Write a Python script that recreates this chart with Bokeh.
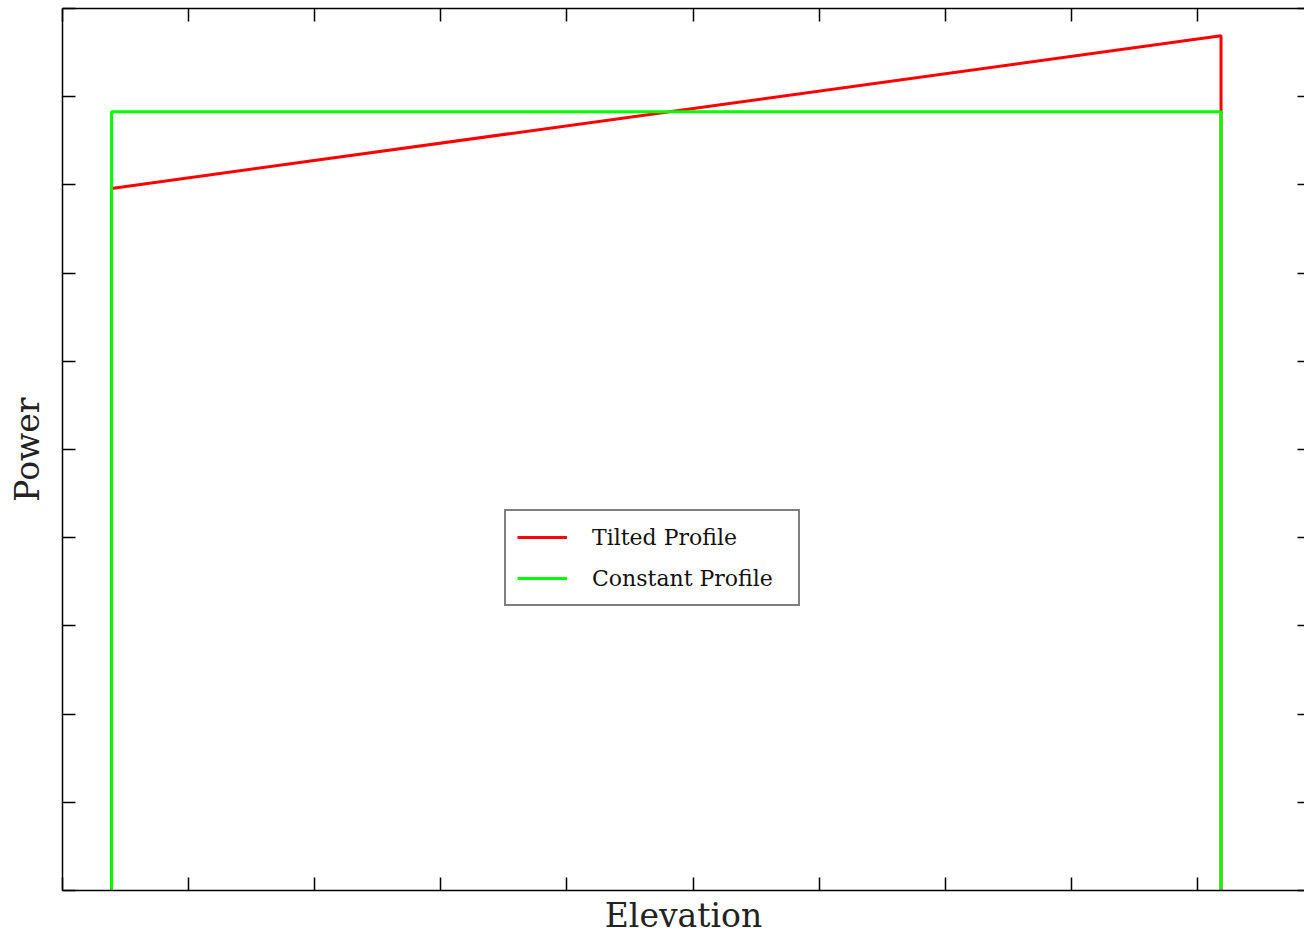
from bokeh.plotting import figure
from bokeh.models import Range1d, LinearAxis, FixedTicker, Legend, LegendItem, CustomJSTickFormatter
from bokeh.embed import file_html
from bokeh.resources import INLINE

# Data (in axis tick units; the original shows no tick labels)
elevation = [0.389, 0.389, 9.187, 9.187]
tilted_power = [0.0, 7.96, 9.69, 0.0]
constant_power = [0.0, 8.83, 8.83, 0.0]

x_ticks = list(range(0, 11))
y_ticks = list(range(0, 11))

FONT = "DejaVu Serif"

p = figure(width=1304, height=937,
           x_range=Range1d(0, 9.849), y_range=Range1d(0, 10),
           output_backend="svg", toolbar_location=None,
           min_border_left=62, min_border_right=0,
           min_border_top=8, min_border_bottom=42,
           x_axis_label="Elevation", y_axis_label="Power")
p.outline_line_color = None
p.xgrid.visible = False
p.ygrid.visible = False
p.background_fill_color = "white"
p.border_fill_color = "white"

top = LinearAxis()
right = LinearAxis()
p.add_layout(top, "above")
p.add_layout(right, "right")

for ax in p.xaxis:
    ax.ticker = FixedTicker(ticks=x_ticks)
for ax in p.yaxis:
    ax.ticker = FixedTicker(ticks=y_ticks)

blank = CustomJSTickFormatter(code="return '';")
for ax in list(p.xaxis) + list(p.yaxis):
    ax.formatter = blank
    ax.major_tick_in = 13
    ax.major_tick_out = 0
    ax.minor_tick_line_color = None
    ax.major_tick_line_color = "black"
    ax.major_tick_line_width = 1.5
    ax.axis_line_color = "black"
    ax.axis_line_width = 1.5
    ax.major_label_standoff = 0
    ax.axis_label_text_font = FONT
    ax.axis_label_text_font_size = "33px"
    ax.axis_label_text_font_style = "normal"
    ax.axis_label_text_color = "#222222"

right.axis_line_color = None
right.major_tick_in = 7
p.xaxis[0].axis_label_standoff = 28
p.yaxis[0].axis_label_standoff = 16

r_tilt = p.line(elevation, tilted_power, line_color="#ff0000", line_width=3)
r_const = p.line(elevation, constant_power, line_color="#00ff00", line_width=3)

legend = Legend(items=[LegendItem(label="Tilted Profile", renderers=[r_tilt]),
                       LegendItem(label="Constant Profile", renderers=[r_const])],
                location=(442, 284))
legend.label_text_font = FONT
legend.label_text_font_size = "22px"
legend.label_text_color = "#111111"
legend.glyph_width = 50
legend.glyph_height = 30
legend.label_height = 30
legend.label_width = 195
legend.label_standoff = 25
legend.spacing = 11
legend.padding = 11
legend.margin = 0
legend.border_line_color = "black"
legend.border_line_width = 2
legend.background_fill_color = "white"
legend.background_fill_alpha = 1.0
p.add_layout(legend, "center")

open("out.html", "w").write(file_html(p, INLINE))
